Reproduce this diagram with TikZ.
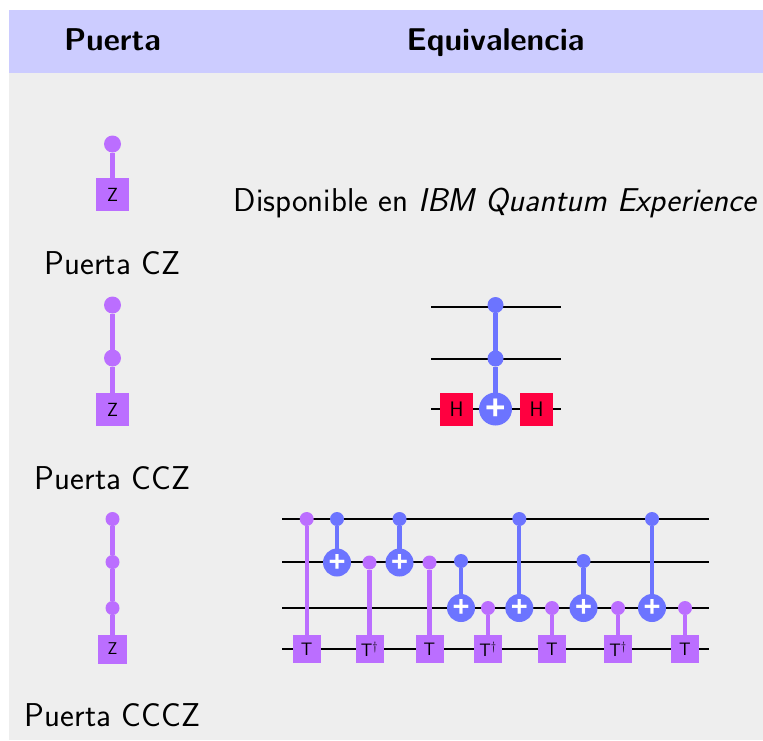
\documentclass[tikz,border=0pt]{standalone}
\usepackage{amsmath}
\usepackage{amssymb}
\usepackage[no-math]{fontspec}
\usepackage[dvipsnames]{xcolor}
\usepackage{tikz}
\usetikzlibrary{calc}
\newfontfamily\plusfont{Liberation Sans}
\definecolor{headblue}{HTML}{CCCCFF}
\definecolor{panelgray}{HTML}{EEEEEE}
\definecolor{gatepurple}{HTML}{BB6EFF}
\definecolor{gateblue}{HTML}{6C74FF}
\definecolor{gatered}{HTML}{FF0040}
\tikzset{
  every node/.style={outer sep=0pt},
  wire/.style={black, line width=1.5pt},
  title/.style={anchor=base, font=\sffamily\bfseries\fontsize{31.5}{36}\selectfont},
  label/.style={anchor=base, font=\sffamily\fontsize{33}{38}\selectfont},
  zbox/.style={fill=gatepurple, minimum size=33pt, inner sep=0pt, font=\sffamily\fontsize{19}{20}\selectfont},
  zsmall/.style={zbox, minimum size=29pt, font=\sffamily\fontsize{17}{20}\selectfont},
  tbox/.style={fill=gatepurple, minimum size=28pt, inner sep=0pt, font=\sffamily\fontsize{18}{20}\selectfont},
  hbox/.style={fill=gatered, minimum size=33pt, inner sep=0pt, font=\sffamily\fontsize{21}{20}\selectfont},
  pdot/.style={circle, fill=gatepurple, minimum size=#1, inner sep=0pt},
  bdot/.style={circle, fill=gateblue, minimum size=#1, inner sep=0pt},
  target/.style={circle, fill=gateblue, minimum size=28pt, inner sep=0pt, text=white, font=\plusfont\bfseries\fontsize{29}{29}\selectfont},
  targetbig/.style={target, minimum size=33pt, font=\plusfont\bfseries\fontsize{35}{35}\selectfont},
  plink/.style={gatepurple, line width=4.2pt},
  blink/.style={gateblue, line width=4.2pt}
}
\newcommand{\plussign}{\raisebox{-0.04em}{+}}
\begin{document}
\begin{tikzpicture}[x=1pt,y=-1pt]
\useasboundingbox (0,0) rectangle (763,740);

%%% fond
\fill[panelgray] (9,73) rectangle (763,740);
\fill[headblue] (9,10) rectangle (763,73);

\node[title] (titlegate) at (112.5,50) {Puerta};
\node[title] (titleequiv) at (495.5,50) {Equivalencia};

%%% colonne gauche

% CZ
\node[pdot=17pt] (cza) at (112.5,144) {};
\node[zbox] (czz) at (112.5,194.5) {Z};
\draw[plink] (cza) -- (czz);
\node[label] (czlabel) at (112.5,274) {Puerta CZ};

% CCZ
\node[pdot=17pt] (ccza) at (112.5,305) {};
\node[pdot=17pt] (cczb) at (112.5,358) {};
\node[zbox] (cczz) at (112.5,409.5) {Z};
\draw[plink] (ccza) -- (cczb);
\draw[plink] (cczb) -- (cczz);
\node[label] (cczlabel) at (112.5,489) {Puerta CCZ};

% CCCZ
\node[pdot=14pt] (cccza) at (112.5,519) {};
\node[pdot=14pt] (ccczb) at (112.5,562) {};
\node[pdot=14pt] (ccczc) at (112.5,608) {};
\node[zsmall] (ccczz) at (112.5,649) {Z};
\draw[plink] (cccza) -- (ccczb);
\draw[plink] (ccczb) -- (ccczc);
\draw[plink] (ccczc) -- (ccczz);
\node[label] (ccczlabel) at (112.5,726) {Puerta CCCZ};

%%% colonne droite

% CZ
\node[label] (ibm) at (495.5,211) {Disponible en \textit{IBM Quantum Experience}};

% CCZ
\coordinate (ua) at (431,307);
\coordinate (ub) at (561,307);
\coordinate (uc) at (431,359);
\coordinate (ud) at (561,359);
\coordinate (ue) at (431,409);
\coordinate (uf) at (561,409);
\draw[wire] (ua) -- (ub);
\draw[wire] (uc) -- (ud);
\draw[wire] (ue) -- (uf);
\node[bdot=16pt] (eqa) at (495.5,305) {};
\node[bdot=16pt] (eqb) at (495.5,358.5) {};
\node[targetbig] (eqc) at (495.5,409) {\plussign};
\node[hbox] (eqh) at (456.5,409.5) {H};
\node[hbox] (eqi) at (536.5,409.5) {H};
\draw[blink] (eqa) -- (eqb);
\draw[blink] (eqb) -- (eqc);

% CCCZ
\coordinate (va) at (282,519);
\coordinate (vb) at (709,519);
\coordinate (vc) at (282,562);
\coordinate (vd) at (709,562);
\coordinate (ve) at (282,608);
\coordinate (vf) at (709,608);
\coordinate (vg) at (282,649);
\coordinate (vh) at (709,649);
\draw[wire] (va) -- (vb);
\draw[wire] (vc) -- (vd);
\draw[wire] (ve) -- (vf);
\draw[wire] (vg) -- (vh);

\node[pdot=14pt] (pa) at (306.7,519) {};
\node[tbox] (ta) at (306.7,649) {T};
\draw[plink] (pa) -- (ta);

\node[bdot=14pt] (ba) at (337,519) {};
\node[target] (xa) at (337,562.5) {\plussign};
\draw[blink] (ba) -- (xa);

\node[pdot=14pt] (pb) at (369.5,562.5) {};
\node[tbox] (tb) at (369.5,649) {T$^\dagger$};
\draw[plink] (pb) -- (tb);

\node[bdot=14pt] (bb) at (399.5,519) {};
\node[target] (xb) at (399.5,562.5) {\plussign};
\draw[blink] (bb) -- (xb);

\node[pdot=14pt] (pc) at (429.5,562.5) {};
\node[tbox] (tc) at (429.5,649) {T};
\draw[plink] (pc) -- (tc);

\node[bdot=14pt] (bc) at (461,561) {};
\node[target] (xc) at (461,608) {\plussign};
\draw[blink] (bc) -- (xc);

\node[pdot=14pt] (pd) at (488,608) {};
\node[tbox] (td) at (488,649) {T$^\dagger$};
\draw[plink] (pd) -- (td);

\node[bdot=14pt] (bd) at (519.3,519) {};
\node[target] (xd) at (519.3,608) {\plussign};
\draw[blink] (bd) -- (xd);

\node[pdot=14pt] (pe) at (552,608) {};
\node[tbox] (te) at (552,649) {T};
\draw[plink] (pe) -- (te);

\node[bdot=14pt] (be) at (583.5,561) {};
\node[target] (xe) at (583.5,608) {\plussign};
\draw[blink] (be) -- (xe);

\node[pdot=14pt] (pf) at (618,608) {};
\node[tbox] (tf) at (618,649) {T$^\dagger$};
\draw[plink] (pf) -- (tf);

\node[bdot=14pt] (bf) at (652,519) {};
\node[target] (xf) at (652,608) {\plussign};
\draw[blink] (bf) -- (xf);

\node[pdot=14pt] (pg) at (685,608) {};
\node[tbox] (tg) at (685,649) {T};
\draw[plink] (pg) -- (tg);

\end{tikzpicture}
\end{document}
